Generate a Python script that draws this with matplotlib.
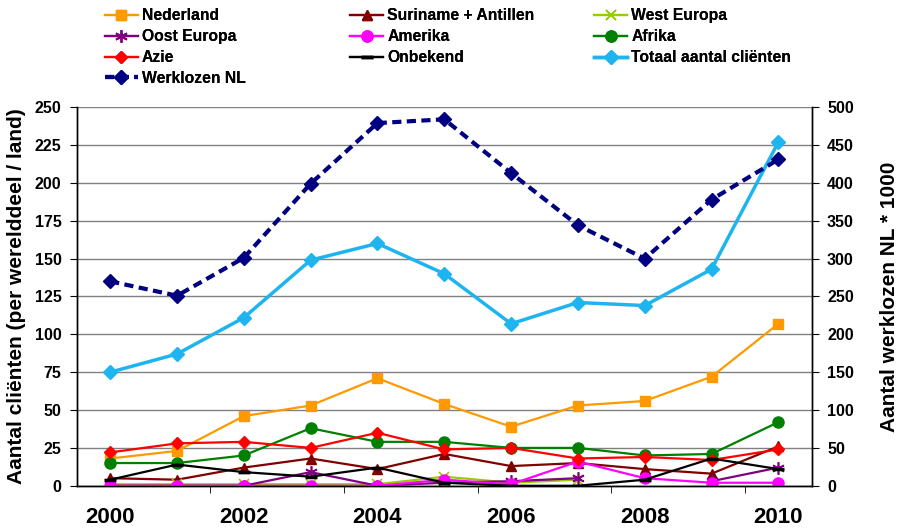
import matplotlib.pyplot as plt
import numpy as np
from matplotlib.ticker import FixedLocator

plt.rcParams["font.family"] = ["Liberation Sans", "DejaVu Sans"]
plt.rcParams["font.weight"] = "bold"

years = np.arange(2000, 2011)
nan = np.nan

nederland = [18, 23, 46, 53, 71, 54, 39, 53, 56, 72, 107]
suriname = [5, 4, 12, 18, 11, 21, 13, 15, 11, 8, 26]
west_europa = [1, 1, 1, 1, 1, 6, 2, 4, nan, nan, nan]
oost_europa = [0, 0, 0, 9, 0, 2, 3, 5, nan, 3, 12]
amerika = [0, 0, 0, 0, 0, 4, 1, 16, 5, 2, 2]
afrika = [15, 15, 20, 38, 29, 29, 25, 25, 20, 21, 42]
azie = [22, 28, 29, 25, 35, 24, 25, 18, 19, 17, 24]
onbekend = [4, 14, 9, 6, 12, 2, 0, 0, 4, 18, 11]
totaal = [75, 87, 111, 149, 160, 140, 107, 121, 119, 143, 227]
werklozen = [270, 251, 301, 399, 479, 484, 413, 344, 300, 378, 431]

fig = plt.figure(figsize=(9.03, 5.28), dpi=100)
ax = fig.add_axes([0.085, 0.08, 0.814, 0.717])
ax2 = ax.twinx()

series = [
    ("Nederland", nederland, "#FF9900", "s", 7),
    ("Suriname + Antillen", suriname, "#800000", "^", 7),
    ("West Europa", west_europa, "#99CC00", "x", 7),
    ("Oost Europa", oost_europa, "#800080", (6, 2, 0), 9),
    ("Amerika", amerika, "#FF00FF", "o", 8),
    ("Afrika", afrika, "#008000", "o", 8),
    ("Azie", azie, "#FF0000", "D", 6),
    ("Onbekend", onbekend, "#000000", "_", 9),
    ("Totaal aantal cliënten", totaal, "#1EB4F0", "D", 7),
]

handles = {}
for name, vals, col, mk, ms in series:
    lw = 2.5 if name.startswith("Totaal") else 1.6
    thin = mk in ("x", (6, 2, 0))
    (h,) = ax.plot(years, vals, color=col, lw=lw, marker=mk, ms=ms,
                   mew=1.2 if thin else (2.5 if mk == "_" else 1),
                   label=name, zorder=3)
    handles[name] = h

(hw,) = ax2.plot(years, werklozen, color="#000080", lw=3, ls=(0, (2.2, 1.3)),
                 marker="D", ms=7, label="Werklozen NL", zorder=3)
handles["Werklozen NL"] = hw

ax.set_xlim(1999.5, 2010.5)
ax.set_ylim(0, 250)
ax2.set_ylim(0, 500)
ax.set_yticks(np.arange(0, 251, 25))
ax2.set_yticks(np.arange(0, 501, 50))
ax.yaxis.grid(True, color="#808080", lw=1)
ax.set_axisbelow(True)

ax.set_xticks(years[::2])
ax.xaxis.set_minor_locator(FixedLocator(np.arange(2001.5, 2010, 2)))
ax.tick_params(axis="x", which="major", length=0, pad=15, labelsize=16)
ax.tick_params(axis="x", which="minor", length=5, direction="out")
ax.tick_params(axis="y", length=5, direction="out", labelsize=11.5, pad=6)
ax2.tick_params(axis="y", length=5, direction="out", labelsize=11.5, pad=6)
for lab in ax.get_xticklabels() + ax.get_yticklabels() + ax2.get_yticklabels():
    lab.set_fontweight("bold")

for a in (ax, ax2):
    a.spines["top"].set_visible(False)
    for s in ("left", "right", "bottom"):
        a.spines[s].set_linewidth(1)

ax.set_ylabel("Aantal cliënten (per werelddeel / land)", fontsize=15,
              fontweight="bold", labelpad=6)
ax2.set_ylabel("Aantal werklozen NL * 1000", fontsize=15,
               fontweight="bold", labelpad=19)

# legend: three fixed-width columns like the Excel original
columns = [
    ["Nederland", "Oost Europa", "Azie", "Werklozen NL"],
    ["Suriname + Antillen", "Amerika", "Onbekend"],
    ["West Europa", "Afrika", "Totaal aantal cliënten"],
]
col_x = [0.116, 0.388, 0.658]
for names, x in zip(columns, col_x):
    leg = fig.legend([handles[k] for k in names], names, loc="upper left",
                     bbox_to_anchor=(x, 0.984), frameon=False, borderpad=0,
                     borderaxespad=0, prop={"size": 11.3, "weight": "bold"},
                     handlelength=2.1, handletextpad=0.26, labelspacing=0.37)
    fig.add_artist(leg)

fig.savefig("out.png", dpi=100)
